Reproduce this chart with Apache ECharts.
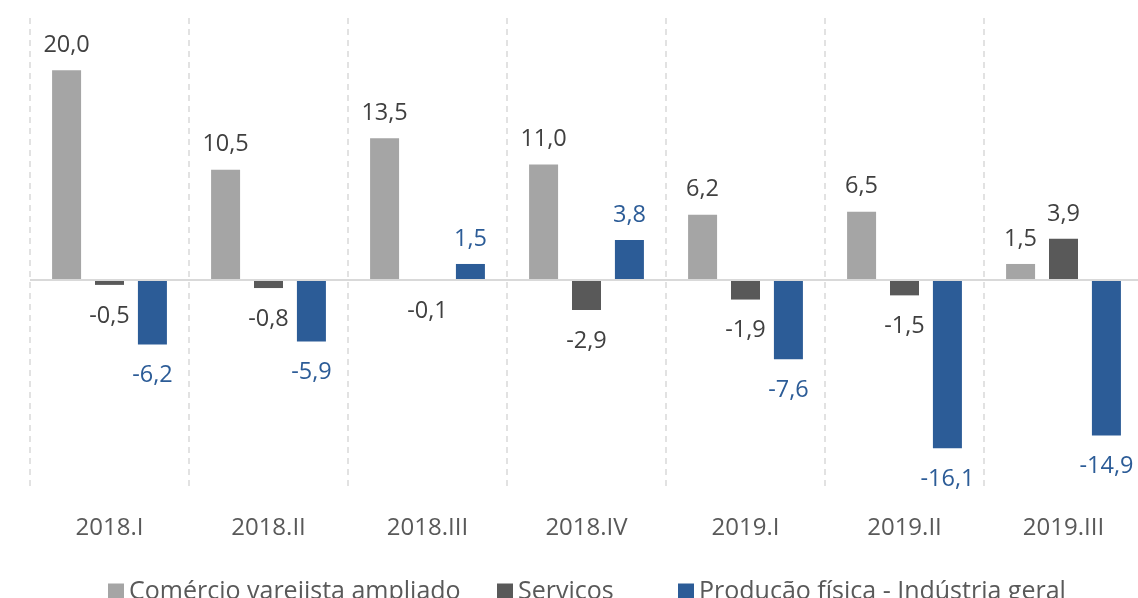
<!DOCTYPE html>
<html>
<head>
<meta charset="utf-8">
<script src="https://cdn.jsdelivr.net/npm/echarts@6/dist/echarts.min.js"></script>
<style>
  html, body { margin: 0; padding: 0; background: #fff; }
  #chart { width: 1138px; height: 598px; }
</style>
</head>
<body>
<div id="chart"></div>
<script>
// dados
var categories = ['2018.I', '2018.II', '2018.III', '2018.IV', '2019.I', '2019.II', '2019.III'];
var seriesNames = ['Comércio varejista ampliado', 'Serviços', 'Produção física - Indústria geral'];
var comercio = [20.0, 10.5, 13.5, 11.0, 6.2, 6.5, 1.5];
var servicos = [-0.5, -0.8, -0.1, -2.9, -1.9, -1.5, 3.9];
var industria = [-6.2, -5.9, 1.5, 3.8, -7.6, -16.1, -14.9];

var FONT = '"Open Sans", "Noto Sans", sans-serif';

function fmt(v) {
    return v.toFixed(1).replace('.', ',');
}

// rótulo acima para positivos, abaixo para negativos
function withLabels(arr, color) {
    return arr.map(function (v) {
        return {
            value: v,
            label: {
                show: true,
                position: v >= 0 ? 'top' : 'bottom',
                distance: v >= 0 ? 13 : 19,
                color: color,
                fontSize: 23.5,
                fontFamily: FONT,
                formatter: function (p) { return fmt(p.value); }
            }
        };
    });
}

// uma legenda por item, como no Excel
var legendLeft = [108, 497, 678];
var legends = seriesNames.map(function (name, i) {
    return {
        left: legendLeft[i],
        top: 579,
        padding: 0,
        itemWidth: 16,
        itemHeight: 16,
        itemGap: 7,
        icon: 'rect',
        textStyle: { fontSize: 25, color: '#595959', fontFamily: FONT },
        data: [name]
    };
});

var myChart = echarts.init(document.getElementById('chart'));

var option = {
    animation: false,
    grid: { left: 30, width: 1113, top: 18, bottom: 109, containLabel: false, outerBoundsMode: 'none' },
    legend: legends,
    xAxis: {
        type: 'category',
        data: categories,
        axisLine: { show: false, onZero: false },
        axisTick: { show: false },
        axisLabel: { color: '#595959', fontSize: 24, fontFamily: FONT, margin: 27 },
        splitLine: { show: true, interval: 0, lineStyle: { color: '#D9D9D9', type: [6, 5], width: 1.5 } }
    },
    yAxis: {
        type: 'value',
        min: -20,
        max: 25,
        show: false,
        splitLine: { show: false }
    },
    series: [{
        name: seriesNames[0],
        type: 'bar',
        barWidth: 29,
        barGap: '48%',
        itemStyle: { color: '#A5A5A5' },
        data: withLabels(comercio, '#404040'),
        markLine: {
            silent: true,
            symbol: 'none',
            label: { show: false },
            lineStyle: { color: '#D9D9D9', type: 'solid', width: 2 },
            data: [{ yAxis: 0 }]
        }
    },
    {
        name: seriesNames[1],
        type: 'bar',
        barWidth: 29,
        barGap: '48%',
        itemStyle: { color: '#595959' },
        data: withLabels(servicos, '#404040')
    },
    {
        name: seriesNames[2],
        type: 'bar',
        barWidth: 29,
        barGap: '48%',
        itemStyle: { color: '#2C5C97' },
        data: withLabels(industria, '#2C5C97')
    }]
};

myChart.setOption(option);
</script>
</body>
</html>
